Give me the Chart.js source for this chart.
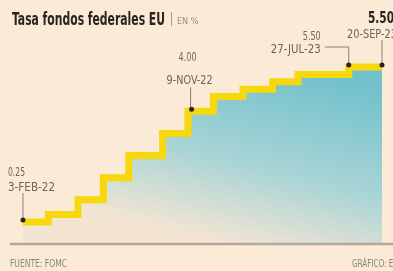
<!DOCTYPE html>
<html>
<head>
<meta charset="utf-8">
<script src="https://cdn.jsdelivr.net/npm/chart.js@4.4.0/dist/chart.umd.min.js"></script>
<style>
  html, body { margin: 0; padding: 0; background: #fbead6; }
  #wrap { width: 393px; height: 271px; }
</style>
</head>
<body>
<div id="wrap"><canvas id="rateChart" width="393" height="271"></canvas></div>
<script>
// tasa de fondos federales (limite superior, %) en cada fecha de cambio
const rateDates = ['2022-02-03', '2022-03-17', '2022-05-05', '2022-06-16', '2022-07-28', '2022-09-22',
                   '2022-11-03', '2022-11-09', '2022-12-15', '2023-02-02', '2023-03-23', '2023-05-04',
                   '2023-07-27', '2023-09-20'];
const rateValues = [0.25, 0.50, 1.00, 1.75, 2.50, 3.25, 4.00, 4.00, 4.50, 4.75, 5.00, 5.25, 5.50, 5.50];

// puntos con etiqueta
const markDates = ['2022-02-03', '2022-11-09', '2023-07-27', '2023-09-20'];
const markValues = ['0.25', '4.00', '5.50', '5.50'];
const markLabels = ['3-FEB-22', '9-NOV-22', '27-JUL-23', '20-SEP-23'];

const titleText = 'Tasa fondos federales EU';
const unitText = 'EN %';
const sourceText = 'FUENTE: FOMC';
const creditText = 'GRÁFICO: EE';

const BASE = -0.46;   // linea base del area
const NARROW = "'Liberation Sans Narrow', 'DejaVu Sans Condensed', sans-serif";

const START = Date.UTC(2022, 1, 3);
const dayOf = s => {
    const [y, m, d] = s.split('-').map(Number);
    return (Date.UTC(y, m - 1, d) - START) / 86400000;
};
const rateValue = s => rateValues[rateDates.indexOf(s)];

const labelsPlugin = {
    id: 'labels',
    afterDatasetsDraw(chart) {
        const { ctx } = chart;
        const xs = chart.scales.x, ys = chart.scales.y;
        const W = chart.width;

        // linea base
        const by = ys.getPixelForValue(BASE) + 1;
        ctx.save();
        ctx.strokeStyle = '#b3a79e';
        ctx.lineWidth = 2.5;
        ctx.beginPath();
        ctx.moveTo(10, by);
        ctx.lineTo(W, by);
        ctx.stroke();

        // guias, puntos y etiquetas
        ctx.strokeStyle = '#8c8279';
        ctx.lineWidth = 1;
        markDates.forEach((d, i) => {
            const px = xs.getPixelForValue(dayOf(d));
            const py = ys.getPixelForValue(rateValue(d)) - 2;
            ctx.fillStyle = '#6d645c';
            ctx.textBaseline = 'alphabetic';
            ctx.font = '13px ' + NARROW;
            ctx.beginPath();
            if (i === 0) {
                ctx.moveTo(px, py - 27); ctx.lineTo(px, py);
                ctx.stroke();
                ctx.textAlign = 'left';
                ctx.fillText(markValues[i], px - 15, py - 44, 17);
                ctx.fillText(markLabels[i], px - 15, py - 29, 47);
            } else if (i === 1) {
                ctx.moveTo(px - 1, py - 22); ctx.lineTo(px - 1, py);
                ctx.stroke();
                ctx.textAlign = 'center';
                ctx.fillText(markValues[i], px - 4, py - 48, 18);
                ctx.fillText(markLabels[i], px - 2, py - 25, 46);
            } else if (i === 2) {
                ctx.moveTo(px - 24, py - 18); ctx.lineTo(px, py - 18); ctx.lineTo(px, py);
                ctx.stroke();
                ctx.textAlign = 'right';
                ctx.fillText(markValues[i], px - 28, py - 25, 18);
                ctx.fillText(markLabels[i], px - 28, py - 12, 50);
            } else {
                ctx.moveTo(px, py - 25); ctx.lineTo(px, py);
                ctx.stroke();
                ctx.textAlign = 'left';
                ctx.fillText(markLabels[i], px - 35, py - 27, 50);
                ctx.fillStyle = '#2a2420';
                ctx.font = 'bold 15px ' + NARROW;
                ctx.fillText(markValues[i], px - 14, py - 42, 26);
            }
            ctx.fillStyle = '#2b2520';
            ctx.beginPath();
            ctx.arc(px, py, 2.5, 0, Math.PI * 2);
            ctx.fill();
        });

        // titulo
        ctx.textAlign = 'left';
        ctx.fillStyle = '#2a2420';
        ctx.font = 'bold 18px ' + NARROW;
        ctx.fillText(titleText, 12, 25, 153);
        ctx.strokeStyle = '#a89d94';
        ctx.beginPath();
        ctx.moveTo(171.5, 12); ctx.lineTo(171.5, 26);
        ctx.stroke();
        ctx.fillStyle = '#9a8f86';
        ctx.font = '9px ' + NARROW;
        ctx.fillText(unitText, 177, 24, 22);

        // pie
        ctx.fillStyle = '#8e847b';
        ctx.font = '10px ' + NARROW;
        ctx.fillText(sourceText, 10, 267, 57);
        ctx.fillText(creditText, 352, 267, 46);
        ctx.restore();
    }
};

new Chart(document.getElementById('rateChart'), {
    type: 'line',
    data: {
        datasets: [{
            data: rateDates.map((d, i) => ({ x: dayOf(d), y: rateValues[i] })),
            borderColor: '#f7d80c',
            borderWidth: 7,
            borderCapStyle: 'butt',
            borderJoinStyle: 'miter',
            stepped: 'before',
            pointRadius: 0,
            fill: { value: BASE },
            backgroundColor: (c) => {
                const { ctx, chartArea } = c.chart;
                if (!chartArea) return null;
                const g = ctx.createLinearGradient(260, 60, 215, 243);
                g.addColorStop(0, '#72c1cc');
                g.addColorStop(0.55, '#a8d4d6');
                g.addColorStop(1, '#f4e5d3');
                return g;
            }
        }]
    },
    options: {
        responsive: false,
        animation: false,
        layout: { padding: 0 },
        plugins: { legend: { display: false }, tooltip: { enabled: false } },
        scales: {
            x: { type: 'linear', display: false, min: -38.05, max: 612.2 },
            y: { display: false, min: -1.41, max: 7.77 }
        }
    },
    plugins: [labelsPlugin]
});
</script>
</body>
</html>
